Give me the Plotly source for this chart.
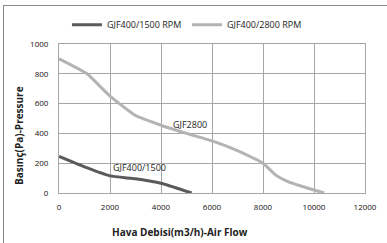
import plotly.graph_objects as go

# Data
flow_1500 = [0, 1000, 2000, 3000, 4000, 5200]
press_1500 = [245, 175, 115, 95, 65, 0]

flow_2800 = [0, 1100, 2000, 3000, 4000, 5000, 6000, 7000, 8000, 8500, 9000, 10000, 10400]
press_2800 = [900, 800, 650, 520, 455, 400, 350, 285, 200, 120, 75, 20, 0]

series_names = ["GJF400/1500 RPM", "GJF400/2800 RPM"]
label_names = ["GJF400/1500", "GJF2800"]
x_ticks = [0, 2000, 4000, 6000, 8000, 10000, 12000]
y_ticks = [0, 200, 400, 600, 800, 1000]

FONT = "Open Sans"
GRID = "#a6a6a6"

fig = go.Figure()
fig.add_trace(go.Scatter(x=flow_1500, y=press_1500, mode="lines", name=series_names[0],
                         line=dict(color="#5a5a5a", width=3, shape="spline", smoothing=0.4)))
fig.add_trace(go.Scatter(x=flow_2800, y=press_2800, mode="lines", name=series_names[1],
                         line=dict(color="#b3b3b3", width=3, shape="spline", smoothing=0.4)))

fig.add_annotation(x=3150, y=170, text=label_names[0], showarrow=False,
                   font=dict(family=FONT, size=9, color="#222"))
fig.add_annotation(x=5150, y=460, text=label_names[1], showarrow=False,
                   font=dict(family=FONT, size=9, color="#222"))

# axis titles
fig.add_annotation(xref="paper", yref="paper", x=0.395, y=-0.262, showarrow=False,
                   text="<b>Hava Debisi(m3/h)-Air Flow</b>", xanchor="center", yanchor="middle",
                   font=dict(family=FONT, size=10, color="#222"))
fig.add_annotation(xref="paper", yref="paper", x=-0.133, y=0.385, showarrow=False, textangle=-90,
                   text="<b>Basınç(Pa)-Pressure</b>", xanchor="center", yanchor="middle",
                   font=dict(family=FONT, size=10, color="#222"))

fig.update_layout(
    width=387, height=243,
    margin=dict(l=59, r=22, t=44, b=50, autoexpand=False),
    paper_bgcolor="white", plot_bgcolor="white",
    font=dict(family=FONT, size=8, color="#222"),
    showlegend=True,
    legend=dict(orientation="h", x=0.026, xanchor="left", y=1.13, yanchor="middle",
                font=dict(family=FONT, size=9, color="#222"), bgcolor="rgba(0,0,0,0)",
                entrywidth=75, itemwidth=30, tracegroupgap=0),
    xaxis=dict(range=[0, 12000], tickvals=x_ticks, ticktext=[str(v) for v in x_ticks],
               showgrid=True, gridcolor=GRID, gridwidth=1, automargin=False,
               showline=True, linecolor=GRID, mirror=True, zeroline=False, ticks="",
               ticklabelstandoff=6,
               tickfont=dict(family=FONT, size=8, color="#111")),
    yaxis=dict(range=[0, 1000], tickvals=y_ticks, ticktext=[str(v) for v in y_ticks],
               showgrid=True, gridcolor=GRID, gridwidth=1, automargin=False,
               showline=True, linecolor=GRID, mirror=True, zeroline=False, ticks="",
               ticklabelstandoff=8,
               tickfont=dict(family=FONT, size=8, color="#111")),
)

# outer chart frame (left and top edges visible in the crop) drawn as a page overlay
frame_js = (
    "document.body.style.margin='0';document.body.style.overflow='hidden';"
    "var fr=document.createElement('div');"
    "fr.style.cssText='position:absolute;left:3px;top:5px;width:600px;height:600px;"
    "border-left:1px solid #8a8a8a;border-top:1px solid #8a8a8a;pointer-events:none;z-index:10;';"
    "document.body.appendChild(fr);"
)

fig.write_html("out.html", config={"displayModeBar": False}, post_script=frame_js)
